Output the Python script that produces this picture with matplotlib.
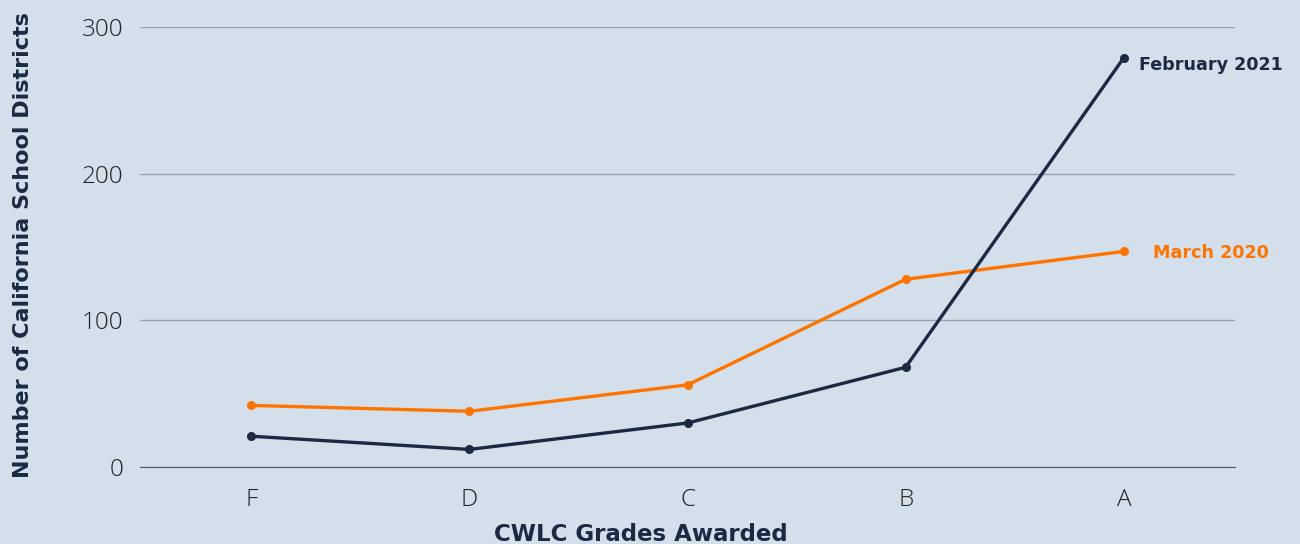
import matplotlib.pyplot as plt

grades = ['F', 'D', 'C', 'B', 'A']
feb_2021 = [21, 12, 30, 68, 279]
mar_2020 = [42, 38, 56, 128, 147]

bg = '#d3dfea'
navy = '#1b2a44'
orange = '#ff7400'
bold_font = 'DejaVu Sans'

fig = plt.figure(figsize=(13, 5.44), dpi=100, facecolor=bg)
ax = fig.add_axes([0.1077, 0.1415, 0.8423, 0.8089], facecolor=bg)

x = range(len(grades))
ax.plot(x, mar_2020, color=orange, lw=2.4, marker='o', ms=5.5, zorder=3)
ax.plot(x, feb_2021, color=navy, lw=2.4, marker='o', ms=5.5, zorder=4)

ax.set_xlim(-0.51, 4.51)
ax.set_ylim(0, 300)
ax.set_yticks([0, 100, 200, 300])
ax.set_xticks(list(x))
ax.set_xticklabels(grades)
ax.grid(axis='y', color='#9aa3ad', lw=1)
ax.set_axisbelow(True)
for s in ['top', 'right', 'left']:
    ax.spines[s].set_visible(False)
ax.spines['bottom'].set_color('#555b63')
ax.tick_params(length=0, labelsize=17.5, labelcolor='#222222', pad=15)
for lab in ax.get_xticklabels() + ax.get_yticklabels():
    lab.set_fontfamily('Open Sans')
    lab.set_fontweight('light')
ax.tick_params(axis='y', pad=12)

ax.set_ylabel('Number of California School Districts', fontsize=16,
              fontweight='bold', color=navy, family=bold_font)
ax.yaxis.set_label_coords(-0.098, 0.505)
ax.set_xlabel('CWLC Grades Awarded', fontsize=16.5, fontweight='bold',
              color=navy, family=bold_font)
ax.xaxis.set_label_coords(0.457, -0.128)

ax.annotate('February 2021', (4, feb_2021[-1]), xytext=(11, -9),
            textcoords='offset points', fontsize=12.6, fontweight='bold',
            color=navy, family=bold_font, annotation_clip=False)
ax.annotate('March 2020', (4, mar_2020[-1]), xytext=(21, -5),
            textcoords='offset points', fontsize=12.6, fontweight='bold',
            color=orange, family=bold_font, annotation_clip=False)

fig.savefig('out.png', dpi=100, facecolor=bg)
